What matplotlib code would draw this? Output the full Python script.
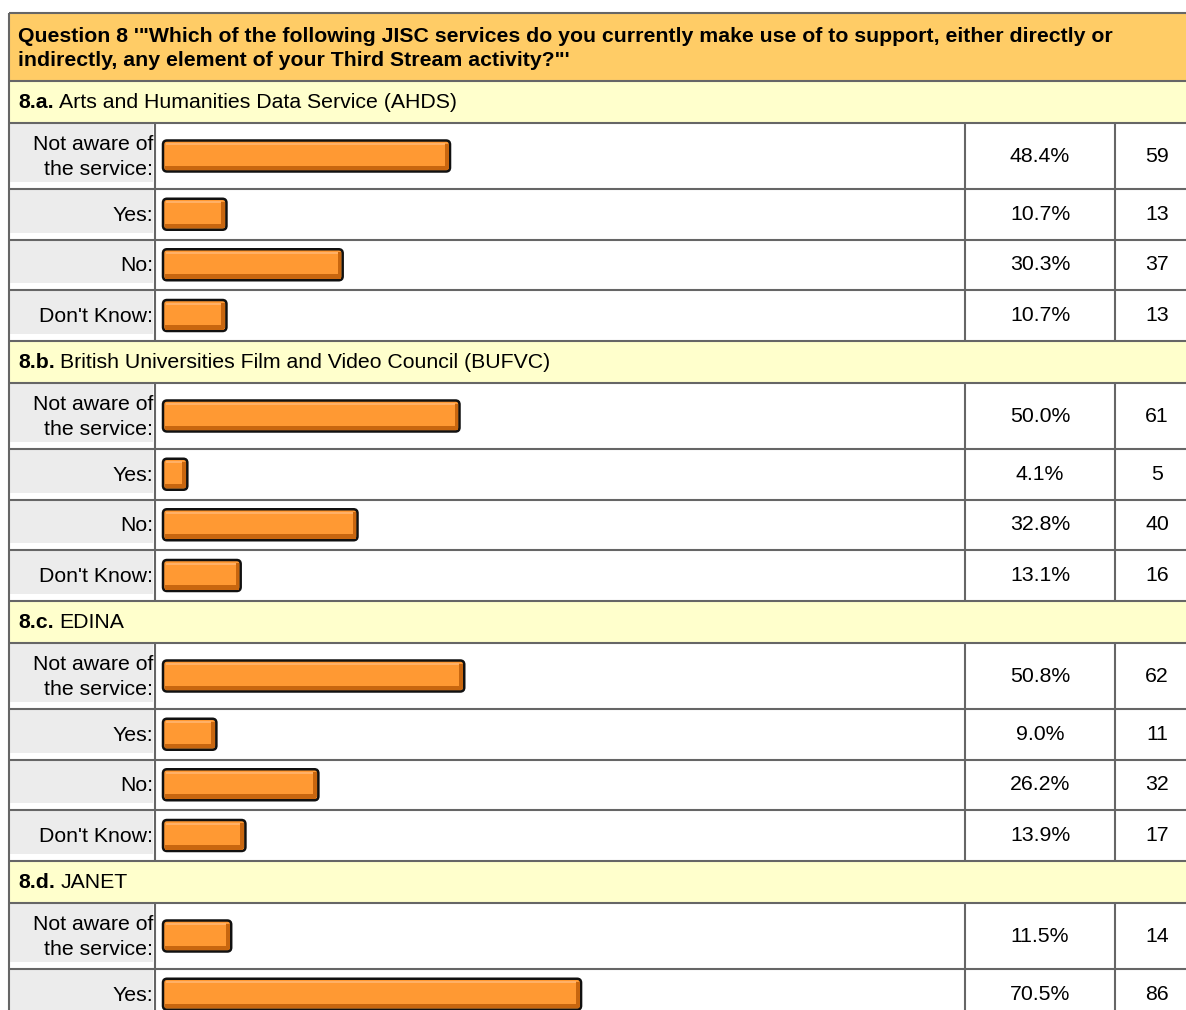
import matplotlib.pyplot as plt
from matplotlib.patches import Rectangle, FancyBboxPatch

plt.rcParams['font.family'] = ['Liberation Sans', 'DejaVu Sans']

# survey data read from the page
question = ['Question 8 \'"Which of the following JISC services do you currently make use of to support, either directly or',
            'indirectly, any element of your Third Stream activity?"\'']
codes = ['8.a.', '8.b.', '8.c.', '8.d.']
services = ['Arts and Humanities Data Service (AHDS)',
            'British Universities Film and Video Council (BUFVC)',
            'EDINA',
            'JANET']
answers = ['Not aware of\nthe service:', 'Yes:', 'No:', "Don't Know:"]
pct_a = [48.4, 10.7, 30.3, 10.7]
cnt_a = [59, 13, 37, 13]
pct_b = [50.0, 4.1, 32.8, 13.1]
cnt_b = [61, 5, 40, 16]
pct_c = [50.8, 9.0, 26.2, 13.9]
cnt_c = [62, 11, 32, 17]
pct_d = [11.5, 70.5]
cnt_d = [14, 86]

percents = [pct_a, pct_b, pct_c, pct_d]
counts = [cnt_a, cnt_b, cnt_c, cnt_d]

# layout (pixels)
W, H = 1186, 1010
x_left, x_lab, x_pct, x_cnt, x_right = 9, 155, 965, 1115, 1199
bar_x0 = 163
px_per_pct = 5.93
bar_h = 31
head_top, head_h = 13, 68
sec_h = 42
row_h = [66, 50.5, 50.5, 51]
line_c = '#666666'
fs = 15.3

fig = plt.figure(figsize=(W / 100, H / 100), dpi=100)
ax = fig.add_axes([0, 0, 1, 1])
ax.set_xlim(0, W)
ax.set_ylim(H, 0)
ax.axis('off')


def hline(y):
    ax.plot([x_left, x_right], [y, y], color=line_c, lw=1.5, solid_capstyle='butt', zorder=3)


def vline(x, y0, y1):
    ax.plot([x, x], [y0, y1], color=line_c, lw=1.5, solid_capstyle='butt', zorder=3)


def draw_bar(yc, pct):
    w = pct * px_per_pct
    y0 = yc - bar_h / 2
    ax.add_patch(FancyBboxPatch((bar_x0, y0), w, bar_h,
                                boxstyle='round,pad=0,rounding_size=4',
                                facecolor='#ff9933', edgecolor='#111111', lw=1.8, zorder=4))
    ax.add_patch(Rectangle((bar_x0 + 2, y0 + bar_h - 6), w - 4, 4.5,
                           facecolor='#c8660f', edgecolor='none', zorder=5))
    ax.add_patch(Rectangle((bar_x0 + w - 5, y0 + 3), 3.5, bar_h - 6,
                           facecolor='#c8660f', edgecolor='none', zorder=5))
    ax.add_patch(Rectangle((bar_x0 + 3, y0 + 2.5), w - 8, 2,
                           facecolor='#ffb066', edgecolor='none', zorder=5))


# question header
ax.add_patch(Rectangle((x_left, head_top), x_right - x_left, head_h, facecolor='#ffcc66', edgecolor='none'))
hline(head_top)
ax.text(18, 36, question[0], fontsize=fs, fontweight='bold', va='center', ha='left')
ax.text(18, 60, question[1], fontsize=fs, fontweight='bold', va='center', ha='left')

y = head_top + head_h
for code, name, pcts, cnts in zip(codes, services, percents, counts):
    hline(y)
    ax.add_patch(Rectangle((x_left, y), x_right - x_left, sec_h, facecolor='#ffffcc', edgecolor='none'))
    t = ax.text(18, y + sec_h / 2, code, fontsize=fs, fontweight='bold', va='center', ha='left')
    ax.annotate(name, xy=(1, 0.5), xycoords=t, xytext=(4, 0), textcoords='offset points',
                fontsize=fs, va='center', ha='left')
    y += sec_h
    for answer, p, c, h in zip(answers, pcts, cnts, row_h):
        hline(y)
        ax.add_patch(Rectangle((x_left + 1, y + 1), x_lab - x_left - 3, h - 8,
                               facecolor='#ececec', edgecolor='none'))
        yc = y + h / 2
        ax.text(x_lab - 2, yc + 1, answer, fontsize=fs, va='center', ha='right',
                multialignment='right', linespacing=1.4)
        draw_bar(yc, p)
        ax.text((x_pct + x_cnt) / 2, yc, f'{p:.1f}%', fontsize=fs, va='center', ha='center')
        ax.text(1157, yc, str(c), fontsize=fs, va='center', ha='center')
        vline(x_lab, y, y + h)
        vline(x_pct, y, y + h)
        vline(x_cnt, y, y + h)
        y += h
hline(y)
vline(x_left, head_top, H)

fig.savefig('out.png', dpi=100)
